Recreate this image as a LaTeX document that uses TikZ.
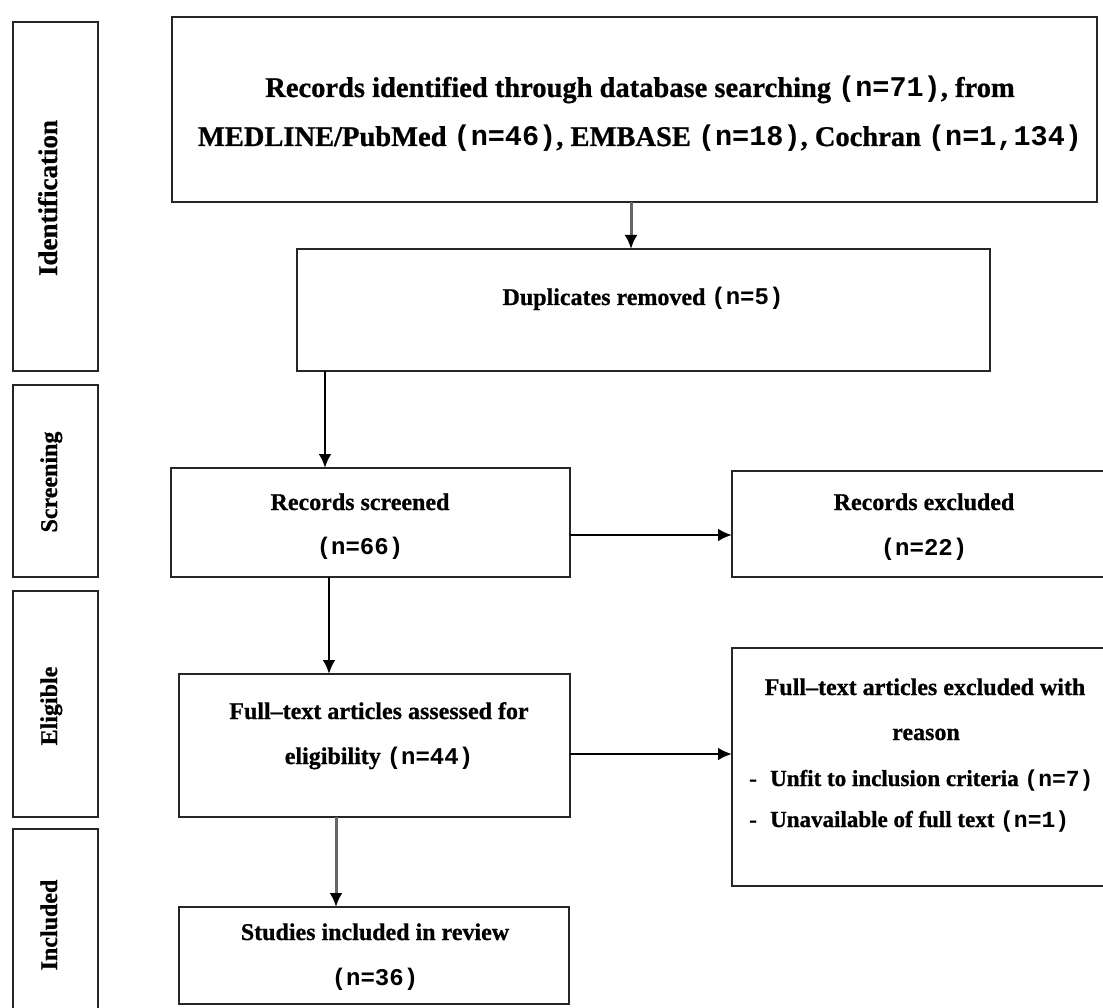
\documentclass[tikz,border=0pt]{standalone}
\usepackage{fontspec}
\setmainfont{Liberation Serif}[BoldFeatures={FakeBold=0.8}]
\setmonofont{Liberation Mono}
\usetikzlibrary{arrows.meta}
\newcommand{\nn}[1]{{\ttfamily\bfseries(n=#1)}}
\begin{document}
\begin{tikzpicture}[x=1pt,y=-1pt,
  box/.style={draw=black!85,line width=2.8pt,inner sep=0pt,outer sep=0pt,anchor=north west},
  txt/.style={anchor=base,inner sep=0pt,font=\bfseries\fontsize{24}{24}\selectfont},
  big/.style={txt,font=\bfseries\fontsize{28.5}{28.5}\selectfont},
  lft/.style={txt,anchor=base west,font=\bfseries\fontsize{23}{23}\selectfont},
  vlab/.style={txt,rotate=90},
  arr/.style={line width=2.8pt,draw=black,-{Latex[length=14pt,width=13pt]}},
  garr/.style={line width=3pt,draw=black!60,-{Latex[length=14pt,width=13pt,color=black]}},
]
\useasboundingbox (0,0) rectangle (1103,1008);
% stage boxes
\node[box,minimum width=85pt,minimum height=349pt] (ident) at (13,22) {};
\node[box,minimum width=85pt,minimum height=192pt] (scrl) at (13,385) {};
\node[box,minimum width=85pt,minimum height=226pt] (elig) at (13,591) {};
\node[box,minimum width=85pt,minimum height=200pt] (incl) at (13,829) {};
\node[vlab,font=\bfseries\fontsize{27}{27}\selectfont] (tident) at (57,198) {Identification};
\node[vlab] (tscrl) at (57,482) {Screening};
\node[vlab] (telig) at (57,706) {Eligible};
\node[vlab] (tincl) at (57,925) {Included};
% flow boxes
\node[box,minimum width=925pt,minimum height=185pt] (top) at (172,17) {};
\node[box,minimum width=693pt,minimum height=122pt] (dup) at (297,249) {};
\node[box,minimum width=399pt,minimum height=109pt] (scr) at (171,468) {};
\node[box,minimum width=390pt,minimum height=106pt] (excl) at (732,471) {};
\node[box,minimum width=391pt,minimum height=143pt] (full) at (179,674) {};
\node[box,minimum width=390pt,minimum height=238pt] (fexcl) at (732,648) {};
\node[box,minimum width=390pt,minimum height=97pt] (stud) at (179,907) {};
% texts
\node[big] (t1a) at (640,97) {Records identified through database searching \nn{71}, from};
\node[big] (t1b) at (640,146) {MEDLINE/PubMed \nn{46}, EMBASE \nn{18}, Cochran \nn{1,134}};
\node[txt] (t2) at (643,305) {Duplicates removed \nn{5}};
\node[txt] (t3a) at (360,510) {Records screened};
\node[txt] (t3b) at (360,554) {\nn{66}};
\node[txt] (t4a) at (924,510) {Records excluded};
\node[txt] (t4b) at (924,555) {\nn{22}};
\node[txt] (t5a) at (379,719) {Full–text articles assessed for};
\node[txt] (t5b) at (379,764) {eligibility \nn{44}};
\node[txt] (t6a) at (925,695) {Full–text articles excluded with};
\node[txt] (t6b) at (926,740) {reason};
\node[lft] (t6c) at (749,786) {\makebox[21pt][l]{-}Unfit to inclusion criteria \nn{7}};
\node[lft] (t6d) at (749,827) {\makebox[21pt][l]{-}Unavailable of full text \nn{1}};
\node[txt] (t7a) at (375,940) {Studies included in review};
\node[txt] (t7b) at (375,985) {\nn{36}};
% connectors
\coordinate (c1) at (631,0);
\coordinate (c2) at (325,0);
\coordinate (c3) at (329,0);
\coordinate (c4) at (336,0);
\coordinate (c5) at (0,535);
\coordinate (c6) at (0,754);
\draw[garr] (top.south -| c1) -- (dup.north -| c1);
\draw[arr] (dup.south -| c2) -- (scr.north -| c2);
\draw[arr] (scr.south -| c3) -- (full.north -| c3);
\draw[garr] (full.south -| c4) -- (stud.north -| c4);
\draw[arr] (scr.east |- c5) -- (excl.west |- c5);
\draw[arr] (full.east |- c6) -- (fexcl.west |- c6);
\end{tikzpicture}
\end{document}
